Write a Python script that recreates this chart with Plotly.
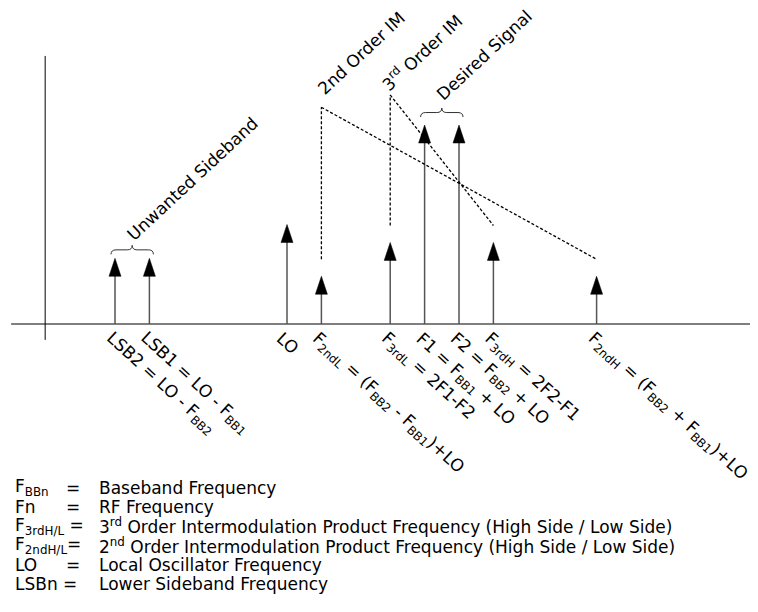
import plotly.graph_objects as go

# ---------------- data ----------------
names = ["LSB2", "LSB1", "LO", "F2ndL", "F3rdL", "F1", "F2", "F3rdH", "F2ndH"]
freqs = [-5, -4, 0, 1, 3, 4, 5, 6, 9]          # relative frequency units (LO = 0)
amps = [0.33, 0.33, 0.50, 0.24, 0.41, 1.0, 1.0, 0.41, 0.24]
tick_labels = [
    "LSB2 = LO - F<sub>BB2</sub>",
    "LSB1 = LO - F<sub>BB1</sub>",
    "LO",
    "F<sub>2ndL</sub> = (F<sub>BB2</sub> - F<sub>BB1</sub>)+LO",
    "F<sub>3rdL</sub> = 2F1-F2",
    "F1 = F<sub>BB1</sub> + LO",
    "F2 = F<sub>BB2</sub> + LO",
    "F<sub>3rdH</sub> = 2F2-F1",
    "F<sub>2ndH</sub> = (F<sub>BB2</sub> + F<sub>BB1</sub>)+LO",
]
legend_symbols = ["F<sub>BBn</sub>", "Fn", "F<sub>3rdH/L</sub> =", "F<sub>2ndH/L</sub>=", "LO", "LSBn ="]
legend_eq = ["=", "=", "", "", "=", ""]
legend_desc = [
    "Baseband Frequency",
    "RF Frequency",
    "3<sup>rd</sup> Order Intermodulation Product Frequency (High Side / Low Side)",
    "2<sup>nd</sup> Order Intermodulation Product Frequency (High Side / Low Side)",
    "Local Oscillator Frequency",
    "Lower Sideband Frequency",
]

# ---------------- layout constants ----------------
OFF = 8            # default page body margin
W, H = 758 - OFF, 612 - OFF
PX_X = 34.4        # px per frequency unit
X0_PX = 287 - OFF  # px of LO
PX_Y = 199         # px per amplitude unit
Y0_PX = 324 - OFF  # px of baseline
FONT = "DejaVu Sans"
FS = 17

xr = [-X0_PX / PX_X, (W - X0_PX) / PX_X]
yr = [-(H - Y0_PX) / PX_Y, Y0_PX / PX_Y]

idx = {n: i for i, n in enumerate(names)}
GAP = 0.085
TOP2 = 1.089
TOP3 = 1.151

shapes = []
# baseline (frequency axis)
shapes.append(dict(type="line", xref="x", yref="y", x0=-8.02, x1=xr[1] + 1, y0=0, y1=0,
                   line=dict(color="#7f7f7f", width=2)))
# amplitude axis
shapes.append(dict(type="line", xref="x", yref="y", x0=-7.03, x1=-7.03, y0=-0.08, y1=1.347,
                   line=dict(color="#000000", width=1)))

# stems and arrowheads
for f, a in zip(freqs, amps):
    shapes.append(dict(type="line", xref="x", yref="y", x0=f, x1=f, y0=0, y1=a - 0.05,
                       line=dict(color="#555555", width=1.5)))
    shapes.append(dict(type="path", xref="x", yref="y", xsizemode="pixel", ysizemode="pixel",
                       xanchor=f, yanchor=a, path="M -6,-18 L 6,-18 L 0,0 Z",
                       fillcolor="#000000", line=dict(color="#000000", width=0.5)))

dash = dict(color="#000000", width=1.3, dash="3px,2px")
# 2nd order IM callout
i2l, i2h = idx["F2ndL"], idx["F2ndH"]
shapes.append(dict(type="line", xref="x", yref="y", x0=freqs[i2l], x1=freqs[i2l],
                   y0=amps[i2l] + GAP, y1=TOP2, line=dash))
shapes.append(dict(type="line", xref="x", yref="y", x0=freqs[i2l], x1=freqs[i2h],
                   y0=TOP2, y1=amps[i2h] + GAP, line=dash))
# 3rd order IM callout
i3l, i3h = idx["F3rdL"], idx["F3rdH"]
shapes.append(dict(type="line", xref="x", yref="y", x0=freqs[i3l], x1=freqs[i3l],
                   y0=amps[i3l] + GAP, y1=TOP3, line=dash))
shapes.append(dict(type="line", xref="x", yref="y", x0=freqs[i3l], x1=freqs[i3h],
                   y0=TOP3, y1=amps[i3h] + GAP, line=dash))


def brace(xc, ybase, width, h=9, r=5):
    w2 = width / 2
    p = (f"M {-w2},0 Q {-w2},{h/2} {-w2 + r},{h/2} L {-r},{h/2} Q 0,{h/2} 0,{h} "
         f"Q 0,{h/2} {r},{h/2} L {w2 - r},{h/2} Q {w2},{h/2} {w2},0")
    return dict(type="path", xref="x", yref="y", xsizemode="pixel", ysizemode="pixel",
                xanchor=xc, yanchor=ybase, path=p, line=dict(color="#333333", width=1))


iL2, iL1 = idx["LSB2"], idx["LSB1"]
shapes.append(brace((freqs[iL2] + freqs[iL1]) / 2, amps[iL1] + 0.02,
                    (freqs[iL1] - freqs[iL2]) * PX_X + 8))
iF1, iF2 = idx["F1"], idx["F2"]
shapes.append(brace((freqs[iF1] + freqs[iF2]) / 2, amps[iF1] + 0.04,
                    (freqs[iF2] - freqs[iF1]) * PX_X + 8))

annotations = []
# rotated frequency labels
for f, t in zip(freqs, tick_labels):
    annotations.append(dict(x=f, y=0, xref="x", yref="y", text=t, showarrow=False,
                            textangle=42.5, xanchor="left", yanchor="top",
                            xshift=-17, yshift=-1,
                            font=dict(family=FONT, size=FS, color="#000000")))

# group labels (rotated up)
top_labels = [
    ("Unwanted Sideband", (freqs[iL2] + freqs[iL1]) / 2, amps[iL1] + 0.055, -12),
    ("2nd Order IM", freqs[i2l], TOP2 + 0.03, -10),
    ("3<sup>rd</sup> Order IM", freqs[i3l], TOP3 - 0.015, -16),
    ("Desired Signal", (freqs[iF1] + freqs[iF2]) / 2, amps[iF1] + 0.09, -12),
]
for t, x, y, xs in top_labels:
    annotations.append(dict(x=x, y=y, xref="x", yref="y", text=t, showarrow=False,
                            textangle=-43, xanchor="left", yanchor="bottom",
                            xshift=xs, yshift=0,
                            font=dict(family=FONT, size=FS, color="#000000")))

# definitions block
for i, (s, e, d) in enumerate(zip(legend_symbols, legend_eq, legend_desc)):
    yc = 1 - (488 + 19.2 * i - OFF) / H
    annotations.append(dict(x=(13 - OFF) / W, y=yc, xref="paper", yref="paper", text=s,
                            showarrow=False, xanchor="left", yanchor="middle",
                            font=dict(family=FONT, size=FS, color="#000000")))
    if e:
        annotations.append(dict(x=(64 - OFF) / W, y=yc, xref="paper", yref="paper", text=e,
                                showarrow=False, xanchor="left", yanchor="middle",
                                font=dict(family=FONT, size=FS, color="#000000")))
    annotations.append(dict(x=(97 - OFF) / W, y=yc, xref="paper", yref="paper", text=d,
                            showarrow=False, xanchor="left", yanchor="middle",
                            font=dict(family=FONT, size=FS, color="#000000")))

fig = go.Figure()
fig.update_layout(
    width=W, height=H,
    margin=dict(l=0, r=0, t=0, b=0),
    paper_bgcolor="white", plot_bgcolor="white",
    showlegend=False,
    shapes=shapes, annotations=annotations,
    xaxis=dict(range=xr, visible=False, fixedrange=True),
    yaxis=dict(range=yr, visible=False, fixedrange=True),
)
fig.write_html("out.html")
